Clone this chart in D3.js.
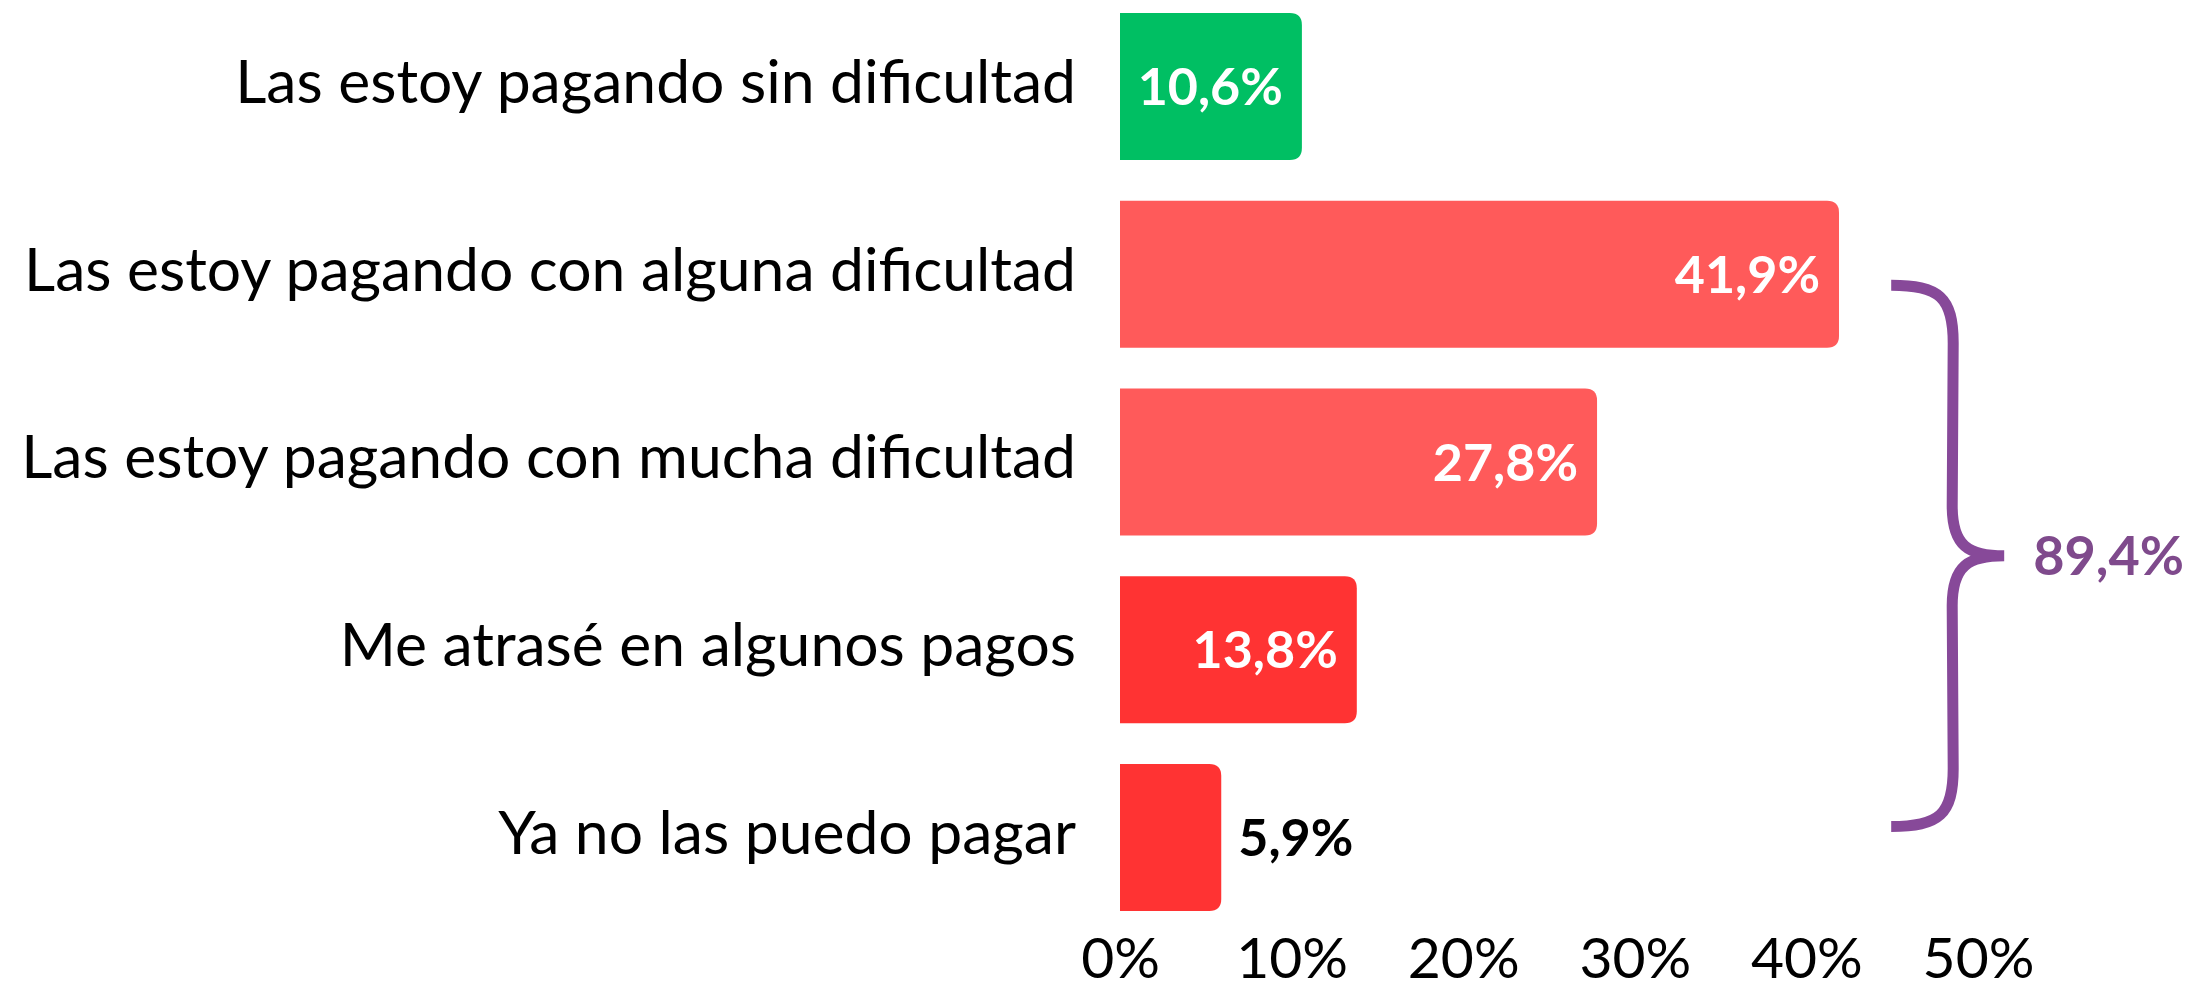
<!DOCTYPE html>
<meta charset='utf-8'>
<html>
    <head>
        <script src="https://d3js.org/d3.v7.min.js" charset="utf-8"></script>
        <style>
            body { margin: 0; background: #fff; }
            text { font-family: Lato, 'Open Sans', sans-serif; }
        </style>
    </head>
    <body>
        <div id="chart-container"></div>
        <script>
            // chart data
            const categories = [
                'Las estoy pagando sin dificultad',
                'Las estoy pagando con alguna dificultad',
                'Las estoy pagando con mucha dificultad',
                'Me atrasé en algunos pagos',
                'Ya no las puedo pagar'
            ];
            const values = [10.6, 41.9, 27.8, 13.8, 5.9];
            const valueLabels = ['10,6%', '41,9%', '27,8%', '13,8%', '5,9%'];
            const barColors = ['#00bf63', '#ff5a5a', '#ff5a5a', '#ff3333', '#ff3333'];
            const tickValues = [0, 10, 20, 30, 40, 50];
            const tickLabels = ['0%', '10%', '20%', '30%', '40%', '50%'];
            // bracket groups categories 2..5
            const bracketFrom = 1;
            const bracketTo = 4;
            const bracketLabel = '89,4%';

            const svgWidth = 2189;
            const svgHeight = 992;

            const svg = d3.select('#chart-container')
                .append('svg')
                .attr('width', svgWidth)
                .attr('height', svgHeight);

            // x: percent -> pixels
            const xScale = d3.scaleLinear()
                .domain([0, 50])
                .range([1120, 1978]);

            // y: one band per category
            const yScale = d3.scaleBand()
                .domain(categories)
                .range([13, 911])
                .paddingInner(0.217)
                .paddingOuter(0);

            const bw = yScale.bandwidth();
            const r = 12;

            // bars: square on the left, rounded on the right
            const barPath = function(d, i) {
                const x0 = xScale(0);
                const x1 = xScale(values[i]);
                const y0 = yScale(d);
                const y1 = y0 + bw;
                return 'M' + x0 + ',' + y0 +
                    'H' + (x1 - r) +
                    'Q' + x1 + ',' + y0 + ' ' + x1 + ',' + (y0 + r) +
                    'V' + (y1 - r) +
                    'Q' + x1 + ',' + y1 + ' ' + (x1 - r) + ',' + y1 +
                    'H' + x0 + 'Z';
            };

            svg.append('g')
                .selectAll('path')
                .data(categories)
                .enter().append('path')
                .attr('d', barPath)
                .attr('fill', function(d, i) { return barColors[i]; });

            // category labels on the left
            svg.append('g')
                .selectAll('text')
                .data(categories)
                .enter().append('text')
                .attr('x', xScale(0) - 44)
                .attr('y', function(d) { return yScale(d) + bw / 2; })
                .attr('dy', '0.27em')
                .attr('text-anchor', 'end')
                .style('font-size', '60.6px')
                .attr('fill', '#000')
                .text(function(d) { return d; });

            // value labels: inside the bar if there's room, otherwise after it
            svg.append('g')
                .selectAll('text')
                .data(categories)
                .enter().append('text')
                .attr('x', function(d, i) {
                    return values[i] > 8 ? xScale(values[i]) - 19 : xScale(values[i]) + 17;
                })
                .attr('y', function(d) { return yScale(d) + bw / 2; })
                .attr('dy', '0.36em')
                .attr('text-anchor', function(d, i) { return values[i] > 8 ? 'end' : 'start'; })
                .style('font-size', '52px')
                .style('font-weight', 700)
                .attr('fill', function(d, i) { return values[i] > 8 ? '#fff' : '#000'; })
                .text(function(d, i) { return valueLabels[i]; });

            // x axis, no line or ticks
            const xAxis = svg.append('g')
                .attr('transform', 'translate(0,935)')
                .call(d3.axisBottom(xScale)
                    .tickValues(tickValues)
                    .tickSize(0)
                    .tickPadding(3)
                    .tickFormat(function(d, i) { return tickLabels[i]; }));
            xAxis.select('.domain').remove();
            xAxis.selectAll('text')
                .style('font-family', 'Lato, sans-serif')
                .style('font-size', '57px')
                .attr('fill', '#000');

            // curly bracket for the grouped categories
            const bTop = yScale(categories[bracketFrom]) + bw / 2 + 11;
            const bBot = yScale(categories[bracketTo]) + bw / 2 - 11;
            const bMid = (bTop + bBot) / 2;
            const bx0 = xScale(45) - 1;
            const bx1 = bx0 + 62;
            const bx2 = bx0 + 113;
            const bracket = d3.path();
            bracket.moveTo(bx0, bTop);
            bracket.bezierCurveTo(bx0 + 48, bTop, bx1, bTop + 12, bx1, bTop + 58);
            bracket.lineTo(bx1 - 1, bMid - 50);
            bracket.bezierCurveTo(bx1 - 1, bMid - 10, bx1 + 15, bMid, bx2, bMid);
            bracket.bezierCurveTo(bx1 + 15, bMid, bx1 - 1, bMid + 10, bx1 - 1, bMid + 50);
            bracket.lineTo(bx1, bBot - 58);
            bracket.bezierCurveTo(bx1, bBot - 12, bx0 + 48, bBot, bx0, bBot);

            svg.append('path')
                .attr('d', bracket.toString())
                .attr('fill', 'none')
                .attr('stroke', '#874999')
                .attr('stroke-width', 11);

            svg.append('text')
                .attr('x', bx2 + 29)
                .attr('y', bMid)
                .attr('dy', '0.36em')
                .style('font-size', '54px')
                .style('font-weight', 700)
                .attr('fill', '#7f4a8c')
                .text(bracketLabel);
        </script>
    </body>
</html>
